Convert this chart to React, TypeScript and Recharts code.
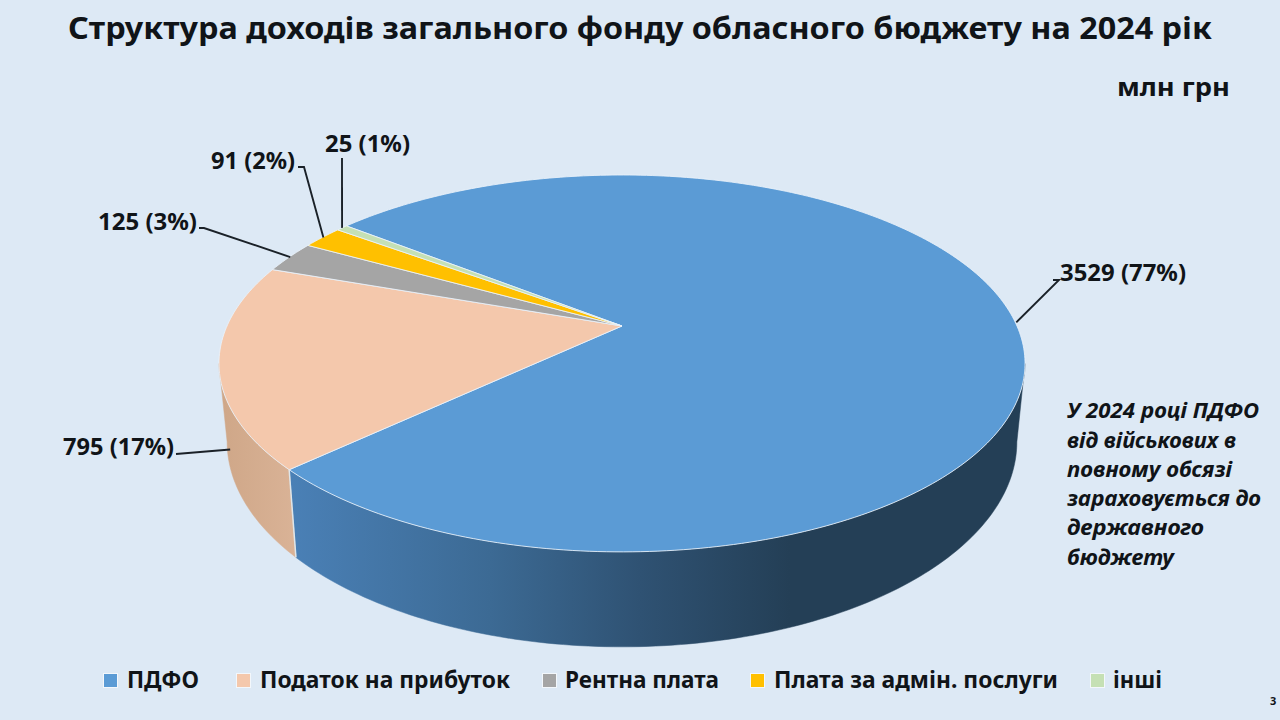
import React from "react";
import { PieChart, Pie, Legend } from "recharts";

const categories = ["ПДФО", "Податок на прибуток", "Рентна плата", "Плата за адмін. послуги", "інші"];
const values = [3529, 795, 125, 91, 25];
const colors = ["#5B9BD5", "#F4C8AC", "#A5A5A5", "#FFC000", "#C5E0B4"];
const wallGradients = ["url(#wallBlue)", "url(#wallPeach)", "#777", "#b58a00", "#8fae80"];

const table = categories.map((name, i) => ({ name, value: values[i], fill: colors[i], wall: wallGradients[i] }));

const FONT = "'Noto Sans', sans-serif";
const INK = "#101418";

// Projection of the flat disc onto the picture plane (perspective view of a 3D pie)
const APEX_X = 622;
const TOP_PLANE = { y0: 326, a: 395, b: 181, k: 0.1987 };
const LOW_PLANE = { y0: 401, a: 387, b: 197, k: 0.1987 };
const project = (deg: number, p: typeof TOP_PLANE) => {
  const r = (deg * Math.PI) / 180;
  const w = 1 + p.k * Math.sin(r);
  return { x: APEX_X + (p.a * Math.cos(r)) / w, y: p.y0 - (p.b * Math.sin(r)) / w };
};
const arcPts = (from: number, to: number, p: typeof TOP_PLANE) => {
  const n = Math.max(2, Math.ceil(Math.abs(to - from)));
  const out: string[] = [];
  for (let i = 0; i <= n; i++) {
    const q = project(from + ((to - from) * i) / n, p);
    out.push(`${q.x.toFixed(2)} ${q.y.toFixed(2)}`);
  }
  return out;
};

// visible wall band in degrees (measured going clockwise, negative side)
const WALL_FROM = -11.5;
const WALL_TO = -168.5;

const Slice = (props: any) => {
  const { startAngle, endAngle, fill, wall } = props;
  const hi = Math.min(startAngle, WALL_FROM);
  const lo = Math.max(endAngle, WALL_TO);
  let wallPath = null as any;
  if (hi > lo) {
    const top = arcPts(hi, lo, TOP_PLANE);
    const low = arcPts(lo, hi, LOW_PLANE);
    wallPath = <path d={`M${top.join("L")}L${low.join("L")}Z`} fill={wall} stroke={wall} strokeWidth={0.5} />;
  }
  const top = arcPts(startAngle, endAngle, TOP_PLANE);
  const sector = `M${APEX_X} ${TOP_PLANE.y0}L${top.join("L")}Z`;
  return (
    <g>
      {wallPath}
      {wallPath && props.name === categories[1] ? (
        <path d={`M${arcPts(startAngle, startAngle, TOP_PLANE)[0]}L${arcPts(startAngle, startAngle, LOW_PLANE)[0]}`} stroke="#dfe6ea" strokeWidth={1.5} fill="none" />
      ) : null}
      <path d={sector} fill={fill} stroke="#EAF2FA" strokeWidth={1} strokeOpacity={0.85} strokeLinejoin="round" />
    </g>
  );
};

// Text position, elbow of the leader, and which plane the leader lands on
const labelLayout = [
  { tx: 1060, ty: 281, width: 126, anchor: "start", elbow: [[1053, 280], [1059, 280]], plane: "top", nudge: [3, 4] },
  { tx: 174, ty: 455, width: 111, anchor: "end", elbow: [[176, 454]], plane: "low", nudge: [3, 6] },
  { tx: 197, ty: 230, width: 99, anchor: "end", elbow: [[199, 228], [204, 228]], plane: "top", nudge: [1, 0] },
  { tx: 295, ty: 169, width: 84, anchor: "end", elbow: [[298, 167], [304, 167]], plane: "top", nudge: [1, 0] },
  { tx: 325, ty: 152, width: 85, anchor: "start", elbow: [[342, 158]], plane: "top", nudge: [0, 0] },
];

const renderLabel = (props: any) => {
  const { index, midAngle, value, percent } = props;
  const L = labelLayout[index];
  const e = project(midAngle, L.plane === "top" ? TOP_PLANE : LOW_PLANE);
  const pts = [...L.elbow, [e.x + L.nudge[0], e.y + L.nudge[1]]].map((p) => p.join(",")).join(" ");
  return (
    <g key={index}>
      <polyline points={pts} fill="none" stroke="#1a2128" strokeWidth={1.9} />
      <text x={L.tx} y={L.ty} textAnchor={L.anchor as any} fontFamily={FONT} fontWeight={700} fontSize={23} fill={INK} textLength={L.width} lengthAdjust="spacingAndGlyphs">
        {`${value} (${Math.round(percent * 100)}%)`}
      </text>
    </g>
  );
};

const legendLayout = [
  { sq: 104, tx: 127, w: 72 },
  { sq: 237, tx: 260, w: 250 },
  { sq: 543, tx: 565, w: 154 },
  { sq: 751, tx: 774, w: 284 },
  { sq: 1091, tx: 1113, w: 49 },
];

const renderLegend = (props: any) => (
  <svg width={1280} height={40} style={{ display: "block" }}>
    {(props.payload || []).map((item: any, i: number) => {
      const L = legendLayout[categories.indexOf(item.value)];
      return (
        <g key={item.value}>
          <rect x={L.sq - 1} y={13} width={15} height={15} fill="#F3F7FB" />
          <rect x={L.sq} y={14} width={13} height={13} fill={item.color} />
          <text x={L.tx} y={28} fontFamily={FONT} fontWeight={700} fontSize={23} fill={INK} textLength={L.w} lengthAdjust="spacingAndGlyphs">
            {item.value}
          </text>
        </g>
      );
    })}
  </svg>
);

const noteLines = ["У 2024 році ПДФО", "від військових в", "повному обсязі", "зараховується до", "державного", "бюджету"];
const noteY = [418, 448, 477, 506, 535, 565];
const noteW = [192, 169, 165, 194, 137, 107];

export default function App() {
  return (
    <div style={{ position: "absolute", left: 0, top: 0, width: 1280, height: 720, background: "#DDE9F5", overflow: "hidden" }}>
      <PieChart width={1280} height={720} margin={{ top: 0, right: 0, bottom: 0, left: 0 }}>
        <defs>
          <linearGradient id="wallBlue" gradientUnits="userSpaceOnUse" x1={290} y1={0} x2={790} y2={0}>
            <stop offset="0" stopColor="#4A80B6" />
            <stop offset="0.4" stopColor="#3C6A94" />
            <stop offset="0.7" stopColor="#2F5273" />
            <stop offset="1" stopColor="#243F56" />
          </linearGradient>
          <linearGradient id="wallPeach" gradientUnits="userSpaceOnUse" x1={222} y1={0} x2={298} y2={0}>
            <stop offset="0" stopColor="#CFA788" />
            <stop offset="1" stopColor="#DAB397" />
          </linearGradient>
        </defs>
        <text x={68} y={39} fontFamily={FONT} fontWeight={700} fontSize={30} fill={INK} textLength={1144} lengthAdjust="spacingAndGlyphs">
          Структура доходів загального фонду обласного бюджету на 2024 рік
        </text>
        <text x={1117} y={96} fontFamily={FONT} fontWeight={700} fontSize={25} fill={INK} textLength={113} lengthAdjust="spacingAndGlyphs">
          млн грн
        </text>
        {noteLines.map((t, i) => (
          <text key={t} x={1067} y={noteY[i]} fontFamily={FONT} fontWeight={700} fontStyle="italic" fontSize={21} fill={INK} textLength={noteW[i]} lengthAdjust="spacingAndGlyphs">
            {t}
          </text>
        ))}
        <text x={1270} y={705} fontFamily={FONT} fontWeight={700} fontSize={11} fill={INK}>3</text>
        <Pie
          data={table}
          dataKey="value"
          nameKey="name"
          cx={622}
          cy={326}
          outerRadius={200}
          startAngle={141.6}
          endAngle={-218.4}
          stroke="none"
          isAnimationActive={false}
          labelLine={false}
          label={renderLabel}
          shape={Slice}
        />
        <Legend itemSorter={null} content={renderLegend} wrapperStyle={{ position: "absolute", left: 0, top: 660, width: 1280, height: 40 }} />
      </PieChart>
    </div>
  );
}
